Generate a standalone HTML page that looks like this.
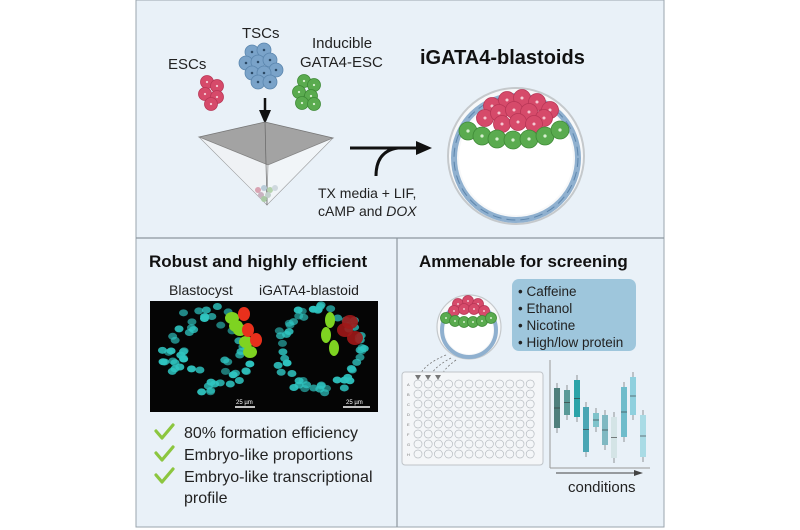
<!DOCTYPE html>
<html><head><meta charset="utf-8"><style>
html,body{margin:0;padding:0;background:#fff;}
svg{display:block;font-family:"Liberation Sans",Arial,sans-serif;}
</style></head><body>
<svg id="s" width="800" height="530" viewBox="0 0 800 530" xmlns="http://www.w3.org/2000/svg">
<rect x="136" y="0" width="528" height="527" fill="#e9f1f8" stroke="#9aa5ae" stroke-width="1"/>
<line x1="136" y1="238" x2="664" y2="238" stroke="#8d979f" stroke-width="1.2"/>
<line x1="397" y1="238" x2="397" y2="527" stroke="#8d979f" stroke-width="1.2"/>

<!-- top labels -->
<text x="242" y="38" font-size="15" fill="#222">TSCs</text>
<text x="168" y="69" font-size="15" fill="#222">ESCs</text>
<text x="312" y="48" font-size="15" fill="#222">Inducible</text>
<text x="300" y="67" font-size="15" fill="#222">GATA4-ESC</text>
<text x="420" y="64" font-size="20" font-weight="bold" fill="#111">iGATA4-blastoids</text>
<g id="clusters"></g>
<!-- down arrow -->
<line x1="265" y1="98" x2="265" y2="114" stroke="#111" stroke-width="2.5"/>
<polygon points="259,110 271,110 265,124" fill="#111"/>
<!-- pyramid -->
<polygon points="199,137 265,122 333,138 268,165" fill="#a3a3a3" stroke="#777" stroke-width="0.8"/>
<polygon points="199,137 268,165 267,205" fill="#f1f3f5" stroke="#888" stroke-width="0.6" opacity="0.8"/>
<polygon points="268,165 333,138 267,205" fill="#f4f6f8" stroke="#888" stroke-width="0.6" opacity="0.8"/>
<line x1="265" y1="122" x2="267" y2="205" stroke="#666" stroke-width="0.7"/>
<g id="pcells"></g>
<!-- process arrow -->
<line x1="350" y1="148" x2="420" y2="148" stroke="#111" stroke-width="3"/>
<polygon points="416,141 432,148 416,155" fill="#111"/>
<path d="M376,176 Q376,151 398,148" fill="none" stroke="#111" stroke-width="3"/>
<text x="318" y="198" font-size="14" fill="#222">TX media + LIF,</text>
<text x="318" y="216" font-size="14" fill="#222">cAMP and <tspan font-style="italic">DOX</tspan></text>
<!-- blastoid -->
<circle cx="516" cy="156" r="68" fill="#f7f8f9" stroke="#c5c9cc" stroke-width="2"/>
<g id="blast"></g>

<!-- bottom left -->
<text x="149" y="267" font-size="17" font-weight="bold" fill="#111">Robust and highly efficient</text>
<text x="169" y="295" font-size="14" fill="#222">Blastocyst</text>
<text x="259" y="295" font-size="14" fill="#222">iGATA4-blastoid</text>
<rect x="150" y="301" width="228" height="111" fill="#050505"/>
<g id="micro"></g>
<line x1="235" y1="407" x2="255" y2="407" stroke="#fff" stroke-width="1.5"/>
<text x="236" y="404" font-size="6" fill="#fff">25 µm</text>
<line x1="343" y1="407" x2="370" y2="407" stroke="#fff" stroke-width="1.5"/>
<text x="346" y="404" font-size="6" fill="#fff">25 µm</text>
<g fill="none" stroke="#8cc63f" stroke-width="3.2" stroke-linecap="round" stroke-linejoin="round">
<path d="M156,431 L162,438 L173,425"/><path d="M156,453 L162,460 L173,447"/><path d="M156,475 L162,482 L173,469"/>
</g>
<g font-size="16" fill="#222">
<text x="184" y="438">80% formation efficiency</text>
<text x="184" y="460">Embryo-like proportions</text>
<text x="184" y="482">Embryo-like transcriptional</text>
<text x="184" y="503">profile</text>
</g>

<!-- bottom right -->
<text x="419" y="267" font-size="17" font-weight="bold" fill="#111">Ammenable for screening</text>
<rect x="512" y="279" width="124" height="72" rx="7" fill="#9ec6dc"/>
<g font-size="13.5" fill="#222">
<text x="518" y="296">• Caffeine</text><text x="518" y="313">• Ethanol</text>
<text x="518" y="330">• Nicotine</text><text x="518" y="347">• High/low protein</text>
</g>
<circle cx="469" cy="327" r="32" fill="#f7f8f9" stroke="#c5c9cc" stroke-width="1.2"/>
<g id="blast2"></g>
<g stroke="#777" stroke-width="0.8" stroke-dasharray="2,2" fill="none">
<path d="M446,355 Q422,365 419,378"/><path d="M451,358 Q432,368 430,378"/><path d="M456,360 Q442,370 441,378"/>
</g>
<rect x="402" y="372" width="141" height="93" rx="3" fill="#f4f6f8" stroke="#bfc4c8"/>
<g id="plate"></g>
<line x1="550" y1="360" x2="550" y2="468" stroke="#999" stroke-width="1"/>
<line x1="550" y1="468" x2="650" y2="468" stroke="#999" stroke-width="1"/>
<g id="box"></g>
<line x1="556" y1="473" x2="636" y2="473" stroke="#444" stroke-width="1"/>
<polygon points="634,470 643,473 634,476" fill="#444"/>
<text x="568" y="492" font-size="15" fill="#222">conditions</text>
</svg>
<script>
const NS="http://www.w3.org/2000/svg";
function el(p,t,a){const e=document.createElementNS(NS,t);for(const k in a)e.setAttribute(k,a[k]);document.getElementById(p).appendChild(e);return e;}
function cell(p,x,y,r,f,s,d){el(p,"circle",{cx:x,cy:y,r:r,fill:f,stroke:s,"stroke-width":0.8});el(p,"circle",{cx:x,cy:y,r:r*0.18,fill:d});}
// clusters
[[207,82],[217,86],[205,94],[217,97],[211,104]].forEach(c=>cell("clusters",c[0],c[1],6.5,"#d64a6a","#b83656","#f4c8d2"));
[[252,52],[264,50],[246,63],[258,62],[270,60],[276,70],[252,73],[264,73],[258,82],[270,82]].forEach(c=>cell("clusters",c[0],c[1],7,"#7aa3c9","#5b86ae","#2c4a66"));
[[304,81],[314,85],[299,92],[311,96],[302,103],[314,104]].forEach(c=>cell("clusters",c[0],c[1],6.5,"#5aab4f","#3e8a36","#d8f0d0"));
// pyramid cells
[[258,190,"#d9a3b2"],[264,188,"#b8cbd8"],[270,190,"#b5d3ae"],[261,195,"#c8b2c0"],[268,195,"#c2d0cc"],[275,188,"#cfd8de"],[264,199,"#a9c9a4"]].forEach(c=>el("pcells","circle",{cx:c[0],cy:c[1],r:3,fill:c[2]}));
// blastoid
el("blast","circle",{cx:516,cy:158,r:62,fill:"none",stroke:"#8fb0cf","stroke-width":6});
el("blast","circle",{cx:516,cy:158,r:62,fill:"none",stroke:"#5d86ad","stroke-width":1,"stroke-dasharray":"9,5"});
el("blast","circle",{cx:516,cy:158,r:57,fill:"#ffffff"});
[[492,106],[507,100],[522,98],[537,102],[550,110],[485,118],[499,113],[514,110],[529,112],[544,118],[502,124],[518,122],[534,124]].forEach(c=>cell("blast",c[0],c[1],8.5,"#d64a6a","#b83656","#f4c8d2"));
[[468,131],[482,136],[497,139],[513,140],[529,139],[545,136],[560,130]].forEach(c=>cell("blast",c[0],c[1],9,"#5aab4f","#3e8a36","#d8f0d0"));
// small blastoid
el("blast2","circle",{cx:469,cy:330,r:27,fill:"none",stroke:"#8fb0cf","stroke-width":4});
el("blast2","circle",{cx:469,cy:330,r:24,fill:"#fff"});
[[458,304],[468,301],[478,304],[454,311],[464,309],[474,309],[484,311]].forEach(c=>cell("blast2",c[0],c[1],5.5,"#d64a6a","#b83656","#f4c8d2"));
[[446,318],[455,321],[464,322],[473,322],[482,321],[491,318]].forEach(c=>cell("blast2",c[0],c[1],5.5,"#5aab4f","#3e8a36","#d8f0d0"));
// micrographs
function rnd(s){return ()=>{s=(s*9301+49297)%233280;return s/233280;};}
const R=rnd(7);
[[207,350],[320,350]].forEach((c,k)=>{
 for(let i=0;i<60;i++){const a=R()*Math.PI*2, rr=(k==0?(0.35+0.65*Math.sqrt(R())):(0.75+0.25*R()))*46;
  el("micro","ellipse",{cx:c[0]+Math.cos(a)*rr,cy:c[1]+Math.sin(a)*rr,rx:4.5,ry:3.5,fill:"#2fc4c0",opacity:0.6+0.4*R()});}
});
[[232,318],[240,330],[246,342],[236,326],[250,352]].forEach(c=>el("micro","ellipse",{cx:c[0],cy:c[1],rx:7,ry:6,fill:"#7ed321"}));
[[248,330],[256,340],[244,314]].forEach(c=>el("micro","ellipse",{cx:c[0],cy:c[1],rx:6,ry:7,fill:"#e8301c"}));
[[330,320],[326,335],[334,348]].forEach(c=>el("micro","ellipse",{cx:c[0],cy:c[1],rx:5,ry:8,fill:"#7ed321"}));
[[345,330],[355,338],[350,322]].forEach(c=>el("micro","ellipse",{cx:c[0],cy:c[1],rx:8,ry:7,fill:"#a01818",opacity:0.9}));
// plate
for(let r=0;r<8;r++)for(let c=0;c<12;c++)el("plate","circle",{cx:418+c*10.2,cy:384+r*10,r:4,fill:"none",stroke:"#b8bdc2","stroke-width":0.7});
"ABCDEFGH".split("").forEach((l,i)=>{const t=el("plate","text",{x:407,y:386+i*10,"font-size":4,fill:"#777"});t.textContent=l;});
[418,428,438].forEach(x=>el("plate","polygon",{points:`${x-3},375 ${x+3},375 ${x},380`,fill:"#777"}));
// boxplots
[[557,388,428,"#4f7f7c"],[567,390,415,"#5a9a98"],[577,380,417,"#2ba3a8"],[586,407,452,"#4aa6b4"],[596,413,427,"#7fc3cb"],[605,415,445,"#7fb8c2"],[614,417,458,"#d4e4e6"],[624,387,437,"#6ebccb"],[633,377,415,"#8fd0de"],[643,415,457,"#a9dbe5"]].forEach(b=>{
 el("box","line",{x1:b[0],y1:b[1]-5,x2:b[0],y2:b[2]+5,stroke:"#555","stroke-width":0.6});
 el("box","rect",{x:b[0]-3,y:b[1],width:6,height:b[2]-b[1],fill:b[3]});
 el("box","line",{x1:b[0]-3,y1:(b[1]+b[2])/2,x2:b[0]+3,y2:(b[1]+b[2])/2,stroke:"#333","stroke-width":0.6});
});
</script>
</body></html>
